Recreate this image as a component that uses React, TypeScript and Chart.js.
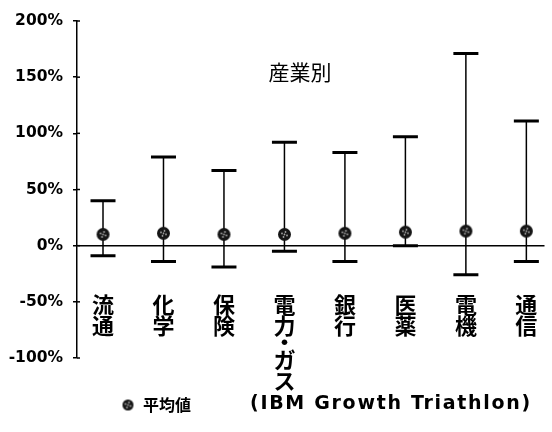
import React, { useEffect, useRef } from 'react';
import { Chart, registerables } from 'chart.js';

Chart.register(...registerables);

const categories = ['流通', '化学', '保険', '電力・ガス', '銀行', '医薬', '電機', '通信'];
const highs = [40, 79, 67, 92, 83, 97, 171, 111];
const lows = [-9, -14, -19, -5, -14, 0, -26, -14];
const means = [10, 11, 10, 10, 11, 12, 13, 13];
const yTickValues = [-100, -50, 0, 50, 100, 150, 200];
const chartTitle = '産業別';
const legendLabel = '平均値';
const sourceNote = '(IBM Growth Triathlon)';

function makeMarker(r: number): HTMLCanvasElement {
  const s = Math.ceil(r * 2 + 2);
  const c = document.createElement('canvas');
  c.width = s;
  c.height = s;
  const g = c.getContext('2d')!;
  const cx = s / 2;
  const cy = s / 2;
  g.fillStyle = '#151515';
  g.beginPath();
  g.arc(cx, cy, r, 0, Math.PI * 2);
  g.fill();
  g.fillStyle = '#a8a8a8';
  const pts = [[-2.5, -1], [1, -2.5], [2.5, 1], [-1, 2.5], [0, 0]];
  pts.forEach(([dx, dy]) => {
    g.beginPath();
    g.arc(cx + dx, cy + dy, 0.9, 0, Math.PI * 2);
    g.fill();
  });
  return c;
}

const CJK = '"Noto Sans CJK JP", "Noto Sans CJK SC", sans-serif';
const LAT = '"DejaVu Sans", "Liberation Sans", Arial, sans-serif';

export default function App() {
  const ref = useRef<HTMLCanvasElement | null>(null);

  useEffect(() => {
    if (!ref.current) return;
    const marker = makeMarker(6.5);
    const legendMarker = makeMarker(5.5);

    const overlay = {
      id: 'overlay',
      beforeDatasetsDraw(chart: any) {
        const { ctx, scales } = chart;
        const x = scales.x;
        const y = scales.y;
        ctx.save();
        ctx.strokeStyle = '#000';
        // inner halves of the y ticks (ticks cross the axis)
        ctx.lineWidth = 1.5;
        yTickValues.forEach((v) => {
          const py = y.getPixelForValue(v);
          ctx.beginPath();
          ctx.moveTo(chart.chartArea.left, py);
          ctx.lineTo(chart.chartArea.left + 3, py);
          ctx.stroke();
        });
        highs.forEach((h, i) => {
          const px = x.getPixelForValue(i + 1);
          const yh = y.getPixelForValue(h);
          const yl = y.getPixelForValue(lows[i]);
          ctx.lineWidth = 1.5;
          ctx.beginPath();
          ctx.moveTo(px, yh);
          ctx.lineTo(px, yl);
          ctx.stroke();
          ctx.lineWidth = 3;
          ctx.beginPath();
          ctx.moveTo(px - 12.5, yh);
          ctx.lineTo(px + 12.5, yh);
          ctx.moveTo(px - 12.5, yl);
          ctx.lineTo(px + 12.5, yl);
          ctx.stroke();
        });
        ctx.restore();
      },
      afterDraw(chart: any) {
        const { ctx, scales } = chart;
        const x = scales.x;
        const y = scales.y;
        ctx.save();
        ctx.fillStyle = '#000';
        // category labels, vertical
        ctx.font = `bold 22px ${CJK}`;
        ctx.textAlign = 'center';
        ctx.textBaseline = 'middle';
        const startY = y.getPixelForValue(-50) + 3;
        categories.forEach((cat, i) => {
          const px = x.getPixelForValue(i + 1);
          let cy = startY;
          const chars = Array.from(cat);
          chars.forEach((ch, j) => {
            if (ch === '・') {
              ctx.fillText(ch, px, cy - 5);
              cy += 13;
            } else {
              ctx.fillText(ch, px, cy);
              cy += 21;
            }
          });
        });
        // title
        ctx.font = `21px ${CJK}`;
        ctx.fillText(chartTitle, 300, 72);
        // legend
        ctx.drawImage(legendMarker, 128 - legendMarker.width / 2, 405 - legendMarker.height / 2);
        ctx.textAlign = 'left';
        ctx.font = `bold 16px ${CJK}`;
        ctx.fillText(legendLabel, 143, 405);
        ctx.font = `bold 19px ${LAT}`;
        try { (ctx as any).letterSpacing = '1.7px'; } catch (e) {}
        ctx.fillText(sourceNote, 250, 404);
        ctx.restore();
      },
    };

    const chart = new Chart(ref.current, {
      type: 'scatter',
      data: {
        datasets: [
          {
            label: legendLabel,
            data: means.map((m, i) => ({ x: i + 1, y: m })),
            pointStyle: marker as any,
            pointRadius: 6.5,
            pointHoverRadius: 6.5,
          },
        ],
      },
      options: {
        animation: false,
        responsive: true,
        maintainAspectRatio: false,
        layout: { padding: { top: 21, bottom: 74, left: 0, right: 4 } },
        plugins: {
          legend: { display: false },
          tooltip: { enabled: false },
          title: { display: false },
        },
        scales: {
          x: {
            type: 'linear',
            min: 0.57,
            max: 8.3,
            display: false,
          },
          y: {
            type: 'linear',
            min: -100,
            max: 200,
            afterBuildTicks: (scale: any) => {
              scale.ticks = yTickValues.map((v) => ({ value: v }));
            },
            afterFit: (scale: any) => {
              scale.width = 77;
            },
            ticks: {
              callback: (v: any) => `${v}%`,
              color: '#000',
              font: { family: LAT, size: 15.5, weight: 'bold' },
              padding: 10,
            },
            grid: {
              color: (c: any) => (c.tick && c.tick.value === 0 ? '#000' : 'rgba(0,0,0,0)'),
              lineWidth: 1.5,
              tickLength: 4,
              tickColor: '#000',
              drawTicks: true,
            },
            border: { display: true, color: '#000', width: 1.5 },
          },
        },
      },
      plugins: [overlay],
    });
    return () => chart.destroy();
  }, []);

  return (
    <div style={{ position: 'absolute', left: 0, top: 0, width: 552, height: 432, background: '#fff' }}>
      <canvas ref={ref} />
    </div>
  );
}
